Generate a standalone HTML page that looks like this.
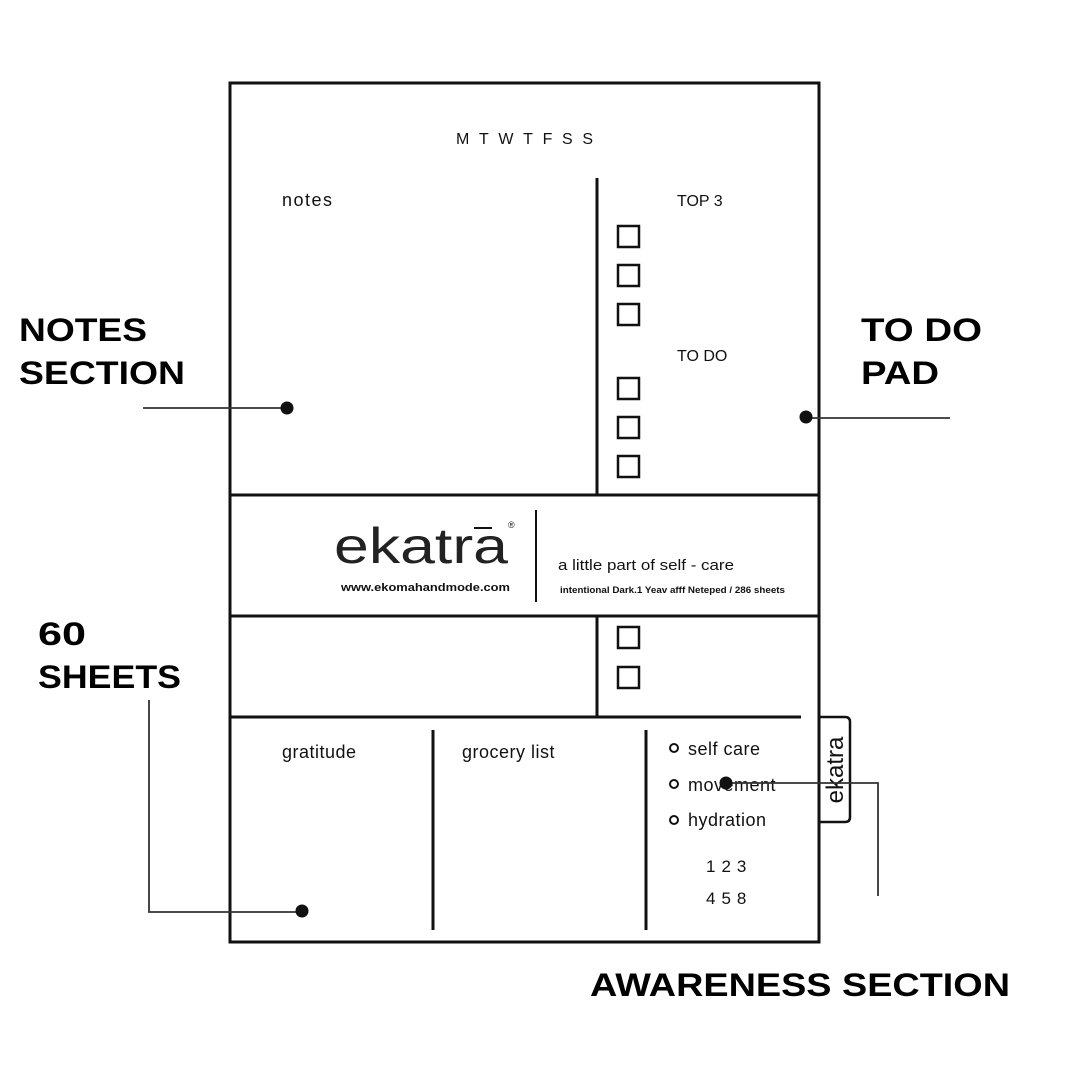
<!DOCTYPE html>
<html><head><meta charset="utf-8"><style>html,body{margin:0;padding:0;background:#fff}svg{display:block}</style></head>
<body>
<svg width="1080" height="1080" viewBox="0 0 1080 1080" xmlns="http://www.w3.org/2000/svg" font-family="Liberation Sans, sans-serif">
<rect width="1080" height="1080" fill="#fff"/>
<!-- main sheet -->
<rect x="230" y="83" width="589" height="859" fill="none" stroke="#111" stroke-width="3"/>
<g stroke="#111" stroke-width="3" fill="none">
<line x1="230" y1="495" x2="819" y2="495"/>
<line x1="230" y1="616" x2="819" y2="616"/>
<line x1="230" y1="717" x2="801" y2="717"/>
<line x1="597" y1="178" x2="597" y2="495"/>
<line x1="597" y1="616" x2="597" y2="717"/>
<line x1="433" y1="730" x2="433" y2="930"/>
<line x1="646" y1="730" x2="646" y2="930"/>
<line x1="536" y1="510" x2="536" y2="602" stroke-width="2"/>
</g>
<!-- tab -->
<path d="M820 717 H845 Q850 717 850 722 V817 Q850 822 845 822 H820" fill="none" stroke="#111" stroke-width="2.5"/>
<text transform="translate(843,770) rotate(-90)" font-size="24" text-anchor="middle" fill="#111">ekatra</text>
<!-- checkboxes -->
<g fill="none" stroke="#111" stroke-width="2.5">
<rect x="618" y="226" width="21" height="21"/>
<rect x="618" y="265" width="21" height="21"/>
<rect x="618" y="304" width="21" height="21"/>
<rect x="618" y="378" width="21" height="21"/>
<rect x="618" y="417" width="21" height="21"/>
<rect x="618" y="456" width="21" height="21"/>
<rect x="618" y="627" width="21" height="21"/>
<rect x="618" y="667" width="21" height="21"/>
</g>
<g fill="#111">
<text x="456" y="144" font-size="16" textLength="137" lengthAdjust="spacing">MTWTFSS</text>
<text x="282" y="206" font-size="18" letter-spacing="1.5">notes</text>
<text x="677" y="206" font-size="16">TOP 3</text>
<text x="677" y="361" font-size="16">TO DO</text>
<text x="334" y="563" font-family="Liberation Sans, sans-serif" font-size="50" textLength="174" lengthAdjust="spacingAndGlyphs" fill="#222">ekatra</text>
<line x1="474" y1="528" x2="492" y2="528" stroke="#111" stroke-width="2"/>
<text x="508" y="528" font-size="9">®</text>
<text x="341" y="591" font-size="11" font-weight="bold" textLength="169" lengthAdjust="spacingAndGlyphs">www.ekomahandmode.com</text>
<text x="558" y="570" font-size="15" textLength="176" lengthAdjust="spacingAndGlyphs">a little part of self - care</text>
<text x="560" y="593" font-size="9" font-weight="bold" textLength="225" lengthAdjust="spacingAndGlyphs">intentional Dark.1 Yeav afff Neteped / 286 sheets</text>
<text x="282" y="758" font-size="18" letter-spacing="0.5">gratitude</text>
<text x="462" y="758" font-size="18" letter-spacing="0.5">grocery list</text>
<text x="688" y="755" font-size="18" letter-spacing="0.5">self care</text>
<text x="688" y="791" font-size="18" letter-spacing="0.5">movement</text>
<text x="688" y="826" font-size="18" letter-spacing="0.5">hydration</text>
<text x="706" y="872" font-size="17" letter-spacing="6">123</text>
<text x="706" y="904" font-size="17" letter-spacing="6">458</text>
</g>
<g fill="none" stroke="#111" stroke-width="2">
<circle cx="674" cy="748" r="4"/>
<circle cx="674" cy="784" r="4"/>
<circle cx="674" cy="820" r="4"/>
</g>
<!-- callouts -->
<g stroke="#333" stroke-width="1.8" fill="none">
<polyline points="143,408 287,408"/>
<polyline points="806,418 950,418"/>
<polyline points="149,700 149,912 302,912"/>
<polyline points="726,783 878,783 878,896"/>
</g>
<g fill="#111">
<circle cx="287" cy="408" r="6.5"/>
<circle cx="806" cy="417" r="6.5"/>
<circle cx="302" cy="911" r="6.5"/>
<circle cx="726" cy="783" r="6.5"/>
</g>
<g fill="#000" font-weight="bold" font-size="32">
<text x="19" y="341" textLength="128" lengthAdjust="spacingAndGlyphs">NOTES</text>
<text x="19" y="384" textLength="166" lengthAdjust="spacingAndGlyphs">SECTION</text>
<text x="861" y="341" textLength="121" lengthAdjust="spacingAndGlyphs">TO DO</text>
<text x="861" y="384" textLength="78" lengthAdjust="spacingAndGlyphs">PAD</text>
<text x="38" y="645" textLength="48" lengthAdjust="spacingAndGlyphs">60</text>
<text x="38" y="688" textLength="143" lengthAdjust="spacingAndGlyphs">SHEETS</text>
<text x="590" y="996" textLength="420" lengthAdjust="spacingAndGlyphs">AWARENESS SECTION</text>
</g>
</svg>
</body></html>
